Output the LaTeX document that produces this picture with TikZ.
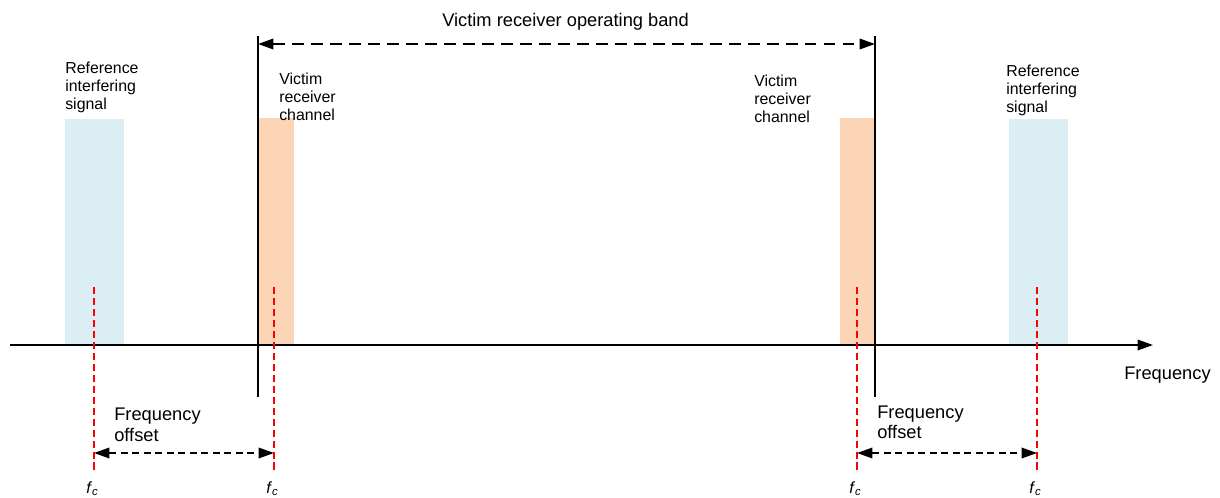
\documentclass[tikz,border=0pt]{standalone}
\usepackage{fontspec}
\setmainfont{Liberation Sans}
\usetikzlibrary{arrows.meta}

\definecolor{chanOrange}{HTML}{FBD5B5}
\definecolor{refBlue}{HTML}{DAEEF3}

\begin{document}
\begin{tikzpicture}[x=0.025cm,y=-0.025cm,
		lblBig/.style={anchor=base west,inner sep=0pt,font=\fontsize{13}{15}\selectfont},
		lblSmall/.style={anchor=base west,inner sep=0pt,font=\fontsize{11.3}{13}\selectfont},
		lblFc/.style={anchor=base west,inner sep=0pt,font=\fontsize{11.5}{13}\selectfont},
		tip/.style={-{Triangle[length=11pt,width=7.5pt]}},
		fcline/.style={red,line width=1.5pt,dash pattern=on 5pt off 2.8pt},
		offarrow/.style={{Triangle[length=11pt,width=7.5pt]}-{Triangle[length=11pt,width=7.5pt]},line width=1.3pt,dash pattern=on 5pt off 3.2pt}]
				
				\useasboundingbox (0,0) rectangle (1220,498);
				
				\fill[refBlue] (65,119) rectangle (124,345);
				\fill[chanOrange] (258,118) rectangle (294,345);
				\fill[chanOrange] (840,118) rectangle (875,345);
				\fill[refBlue] (1009,119) rectangle (1068,345);
				
				\coordinate (axL) at (10,345);
				\coordinate (axR) at (1153,345);
				\draw[tip,line width=1.4pt] (axL) -- (axR);
				\node[lblBig] (lblFreq) at (1124,379) {Frequency};
				
				\coordinate (bandLtop) at (258,36);
				\coordinate (bandLbot) at (258,397);
				\coordinate (bandRtop) at (875,36);
				\coordinate (bandRbot) at (875,397);
				\draw[-,line width=1.4pt] (bandLtop) -- (bandLbot);
				\draw[-,line width=1.4pt] (bandRtop) -- (bandRbot);
				
				\coordinate (bandL) at (258,44);
				\coordinate (bandR) at (875,44);
				\draw[{Triangle[length=11pt,width=7.5pt]}-{Triangle[length=11pt,width=7.5pt]},line width=1.4pt,dash pattern=on 8.5pt off 5pt] (bandL) -- (bandR);
				\node[lblBig] (lblBand) at (442,27) {Victim receiver operating band};
				
				\node[lblSmall] (RefL1) at (65,74) {Reference};
				\node[lblSmall] (RefL2) at (65,92) {interfering};
				\node[lblSmall] (RefL3) at (65,110) {signal};
				
				\node[lblSmall] (ChanL1) at (279,85) {Victim};
				\node[lblSmall] (ChanL2) at (279,103) {receiver};
				\node[lblSmall] (ChanL3) at (279,121) {channel};
				
				\node[lblSmall] (ChanR1) at (754,87) {Victim};
				\node[lblSmall] (ChanR2) at (754,105) {receiver};
				\node[lblSmall] (ChanR3) at (754,123) {channel};
				
				\node[lblSmall] (RefR1) at (1006,77) {Reference};
				\node[lblSmall] (RefR2) at (1006,95) {interfering};
				\node[lblSmall] (RefR3) at (1006,113) {signal};
				
				\coordinate (fcAtop) at (94,287);
				\coordinate (fcAbot) at (94,472);
				\coordinate (fcBtop) at (274,287);
				\coordinate (fcBbot) at (274,472);
				\coordinate (fcCtop) at (857,287);
				\coordinate (fcCbot) at (857,472);
				\coordinate (fcDtop) at (1037,287);
				\coordinate (fcDbot) at (1037,472);
				\draw[fcline] (fcAtop) -- (fcAbot);
				\draw[fcline] (fcBtop) -- (fcBbot);
				\draw[fcline] (fcCtop) -- (fcCbot);
				\draw[fcline] (fcDtop) -- (fcDbot);
				
				\node[lblFc] (fcA) at (86,493) {\textit{f}\textsubscript{\textit{c}}};
				\node[lblFc] (fcB) at (266,493) {\textit{f}\textsubscript{\textit{c}}};
				\node[lblFc] (fcC) at (849,493) {\textit{f}\textsubscript{\textit{c}}};
				\node[lblFc] (fcD) at (1029,493) {\textit{f}\textsubscript{\textit{c}}};
				
				\coordinate (offA) at (94,453);
				\coordinate (offB) at (274,453);
				\draw[offarrow] (offA) -- (offB);
				\node[lblBig] (OffL1) at (114,420) {Frequency};
				\node[lblBig] (OffL2) at (114,441) {offset};
				
				\coordinate (offC) at (857,453);
				\coordinate (offD) at (1037,453);
				\draw[offarrow] (offC) -- (offD);
				\node[lblBig] (OffR1) at (877,418) {Frequency};
				\node[lblBig] (OffR2) at (877,438) {offset};
				
			\end{tikzpicture}
\end{document}
